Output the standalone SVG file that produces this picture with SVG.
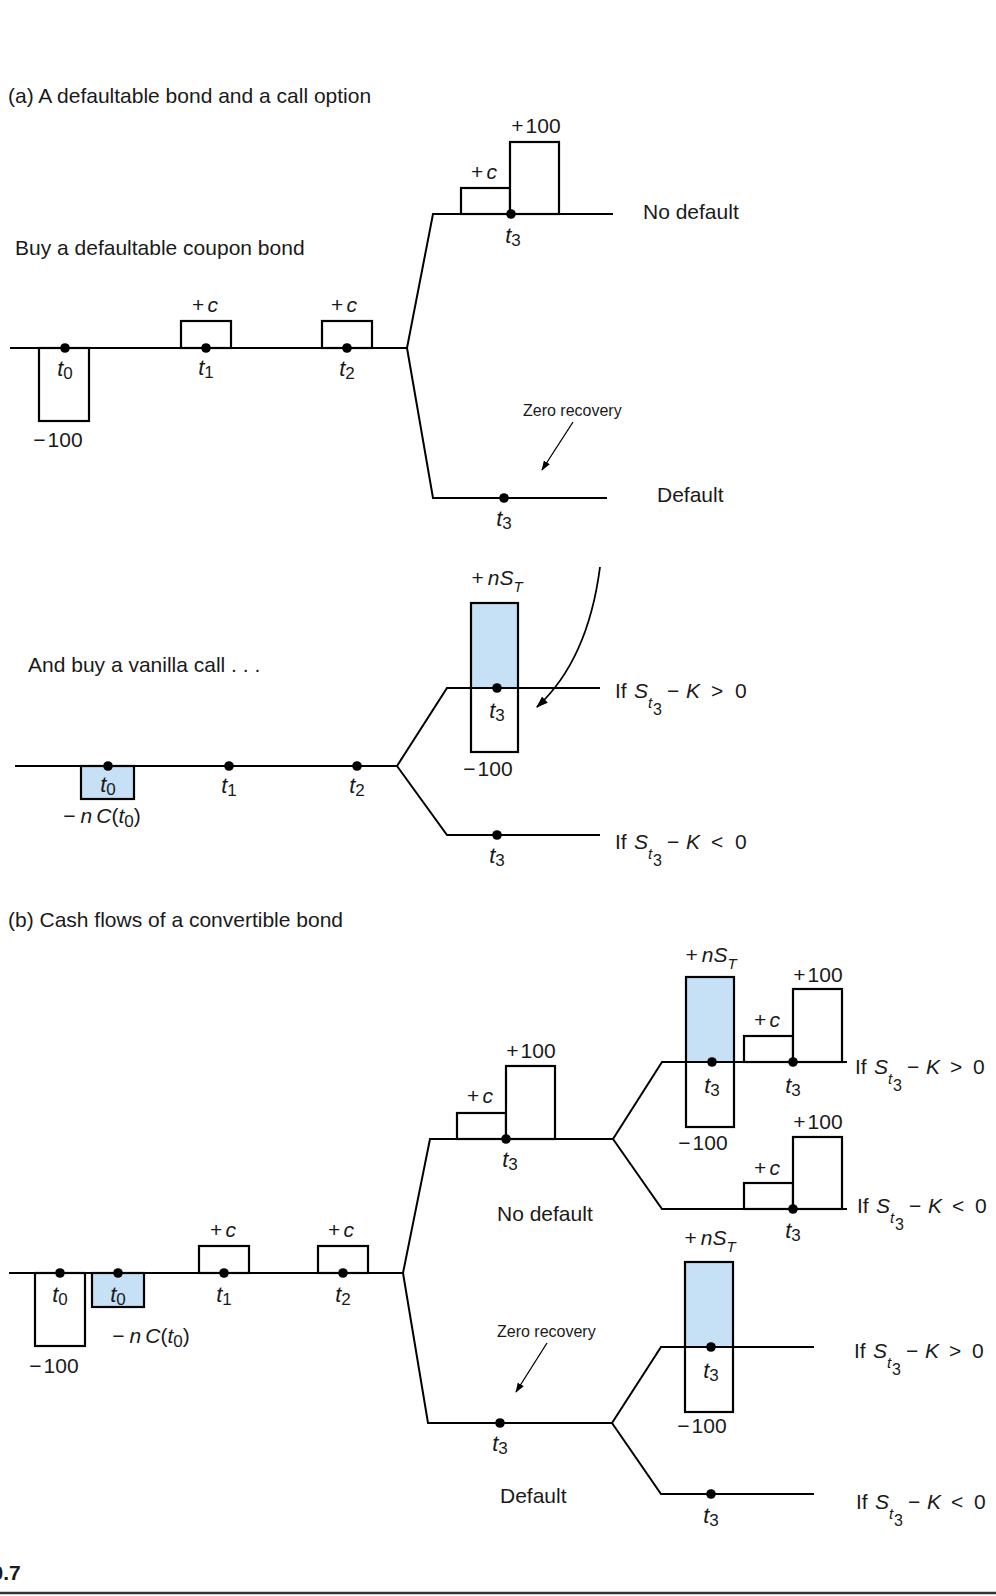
<svg xmlns="http://www.w3.org/2000/svg" width="996" height="1596" viewBox="0 0 996 1596">
<style>
text{font-family:"Liberation Sans",Arial,sans-serif;fill:#1a1a1a;font-size:21px}
.t{font-style:italic;text-anchor:middle;font-size:22px}
.s{font-size:17px;font-style:normal}
.m{text-anchor:middle}
.i{font-style:italic}
.zr{font-size:16px}
.bx{fill:#fff;stroke:#000;stroke-width:2.2}
.ol{fill:none;stroke:#000;stroke-width:2.2}
.bl{fill:#c6e0f5;stroke:none}
.wh{fill:#fff;stroke:none}
.blb{fill:#c6e0f5;stroke:#000;stroke-width:2.2}
.ln{fill:none;stroke:#000;stroke-width:2}
.ar{fill:none;stroke:#000;stroke-width:1.3}
.ar2{fill:none;stroke:#000;stroke-width:1.8}
.dot{fill:#000}
</style>
<defs>
<marker id="ah" viewBox="0 0 10 10" refX="9" refY="5" markerWidth="10" markerHeight="10" markerUnits="userSpaceOnUse" orient="auto"><path d="M0,1.5 L10,5 L0,8.5 z" fill="#000"/></marker>
<marker id="ah2" viewBox="0 0 10 10" refX="9" refY="5" markerWidth="12" markerHeight="12" markerUnits="userSpaceOnUse" orient="auto"><path d="M0,1.5 L10,5 L0,8.5 z" fill="#000"/></marker>
</defs>

<!-- ========== Part (a) top: defaultable bond ========== -->
<g id="title-a"><text x="8" y="103">(a) A defaultable bond and a call option</text></g>
<g id="label-buy-bond"><text x="15" y="255">Buy a defaultable coupon bond</text></g>

<g id="a1-t0">
<rect class="bx" x="39" y="348" width="50" height="73"/>
<circle class="dot" cx="65" cy="348" r="4.8"/>
<text class="t" x="65" y="376">t<tspan class="s" dy="3">0</tspan></text>
<text class="m" x="58" y="447">−<tspan dx="2">100</tspan></text>
</g>
<g id="a1-t1">
<rect class="bx" x="181" y="321" width="50" height="27"/>
<circle class="dot" cx="206" cy="348" r="4.8"/>
<text class="m" x="205" y="312">+<tspan class="i" dx="3">c</tspan></text>
<text class="t" x="206" y="375">t<tspan class="s" dy="3">1</tspan></text>
</g>
<g id="a1-t2">
<rect class="bx" x="322" y="321" width="50" height="27"/>
<circle class="dot" cx="347" cy="348" r="4.8"/>
<text class="m" x="344" y="312">+<tspan class="i" dx="3">c</tspan></text>
<text class="t" x="347" y="376">t<tspan class="s" dy="3">2</tspan></text>
</g>
<g id="a1-t3-nodefault">
<rect class="bx" x="461" y="188" width="49" height="26"/>
<rect class="bx" x="510" y="142" width="49" height="72"/>
<circle class="dot" cx="511" cy="214" r="4.8"/>
<text class="m" x="484" y="179">+<tspan class="i" dx="3">c</tspan></text>
<text class="m" x="536" y="133">+<tspan dx="2">100</tspan></text>
<text class="t" x="513" y="243">t<tspan class="s" dy="3">3</tspan></text>
<text x="643" y="219">No default</text>
</g>
<g id="a1-t3-default">
<circle class="dot" cx="504" cy="498" r="4.8"/>
<text class="t" x="504" y="526">t<tspan class="s" dy="3">3</tspan></text>
<text x="657" y="502">Default</text>
<text class="zr" x="523" y="416">Zero recovery</text>
</g>

<!-- ========== Part (a) bottom: vanilla call ========== -->
<g id="label-buy-call"><text x="28" y="672">And buy a vanilla call . . .</text></g>
<g id="a2-t0">
<rect class="blb" x="81" y="766" width="53" height="33"/>
<circle class="dot" cx="108" cy="766" r="4.8"/>
<text class="t" x="108" y="792">t<tspan class="s" dy="3">0</tspan></text>
<text class="m" x="102" y="823">−<tspan class="i" dx="5">n</tspan><tspan class="i" dx="4">C</tspan>(<tspan class="i">t</tspan><tspan class="s" dy="4">0</tspan><tspan dy="-4">)</tspan></text>
</g>
<g id="a2-t1">
<circle class="dot" cx="229" cy="766" r="4.8"/>
<text class="t" x="229" y="793">t<tspan class="s" dy="3">1</tspan></text>
</g>
<g id="a2-t2">
<circle class="dot" cx="357" cy="766" r="4.8"/>
<text class="t" x="357" y="793">t<tspan class="s" dy="3">2</tspan></text>
</g>
<g id="a2-t3-up">
<rect class="bl" x="471" y="603" width="47" height="85"/>
<rect class="wh" x="471" y="688" width="47" height="64"/>
<rect class="ol" x="471" y="603" width="47" height="149"/>
<circle class="dot" cx="497" cy="688" r="4.8"/>
<text class="m" x="497" y="585">+<tspan class="i" dx="4">nS</tspan><tspan class="i" font-size="15" dy="7">T</tspan></text>
<text class="t" x="497" y="718">t<tspan class="s" dy="3">3</tspan></text>
<text class="m" x="488" y="776">−<tspan dx="2">100</tspan></text>
<g transform="translate(615,698)"><text><tspan x="0" y="0">If</tspan><tspan class="i" x="19" y="0">S</tspan><tspan class="i" font-size="15" x="33" y="10">t</tspan><tspan font-size="16" x="38" y="17">3</tspan><tspan x="52" y="0">−</tspan><tspan class="i" x="71" y="0">K</tspan><tspan x="96" y="0">&gt;</tspan><tspan x="120" y="0">0</tspan></text></g>
</g>
<g id="a2-t3-down">
<circle class="dot" cx="497" cy="835" r="4.8"/>
<text class="t" x="497" y="863">t<tspan class="s" dy="3">3</tspan></text>
<g transform="translate(615,849)"><text><tspan x="0" y="0">If</tspan><tspan class="i" x="19" y="0">S</tspan><tspan class="i" font-size="15" x="33" y="10">t</tspan><tspan font-size="16" x="38" y="17">3</tspan><tspan x="52" y="0">−</tspan><tspan class="i" x="71" y="0">K</tspan><tspan x="96" y="0">&lt;</tspan><tspan x="120" y="0">0</tspan></text></g>
</g>

<!-- ========== Part (b): convertible bond ========== -->
<g id="title-b"><text x="8" y="927">(b) Cash flows of a convertible bond</text></g>
<g id="b-t0">
<rect class="bx" x="35" y="1273" width="50" height="73"/>
<circle class="dot" cx="60" cy="1273" r="4.8"/>
<text class="t" x="60" y="1302">t<tspan class="s" dy="3">0</tspan></text>
<text class="m" x="54" y="1373">−<tspan dx="2">100</tspan></text>
</g>
<g id="b-t0-call">
<rect class="blb" x="92" y="1273" width="52" height="34"/>
<circle class="dot" cx="118" cy="1273" r="4.8"/>
<text class="t" x="118" y="1302">t<tspan class="s" dy="3">0</tspan></text>
<text class="m" x="151" y="1343">−<tspan class="i" dx="5">n</tspan><tspan class="i" dx="4">C</tspan>(<tspan class="i">t</tspan><tspan class="s" dy="4">0</tspan><tspan dy="-4">)</tspan></text>
</g>
<g id="b-t1">
<rect class="bx" x="199" y="1246" width="50" height="27"/>
<circle class="dot" cx="224" cy="1273" r="4.8"/>
<text class="m" x="223" y="1237">+<tspan class="i" dx="3">c</tspan></text>
<text class="t" x="224" y="1302">t<tspan class="s" dy="3">1</tspan></text>
</g>
<g id="b-t2">
<rect class="bx" x="318" y="1246" width="50" height="27"/>
<circle class="dot" cx="343" cy="1273" r="4.8"/>
<text class="m" x="341" y="1237">+<tspan class="i" dx="3">c</tspan></text>
<text class="t" x="343" y="1302">t<tspan class="s" dy="3">2</tspan></text>
</g>
<g id="b-nodefault-t3">
<rect class="bx" x="457" y="1113" width="49" height="26"/>
<rect class="bx" x="506" y="1066" width="49" height="73"/>
<circle class="dot" cx="506" cy="1139" r="4.8"/>
<text class="m" x="480" y="1103">+<tspan class="i" dx="3">c</tspan></text>
<text class="m" x="531" y="1058">+<tspan dx="2">100</tspan></text>
<text class="t" x="510" y="1167">t<tspan class="s" dy="3">3</tspan></text>
<text x="497" y="1221">No default</text>
</g>
<g id="b-nodefault-up">
<rect class="bl" x="686" y="977" width="48" height="85"/>
<rect class="wh" x="686" y="1062" width="48" height="65"/>
<rect class="ol" x="686" y="977" width="48" height="150"/>
<circle class="dot" cx="712" cy="1062" r="4.8"/>
<text class="m" x="711" y="962">+<tspan class="i" dx="4">nS</tspan><tspan class="i" font-size="15" dy="7">T</tspan></text>
<text class="t" x="712" y="1093">t<tspan class="s" dy="3">3</tspan></text>
<text class="m" x="703" y="1150">−<tspan dx="2">100</tspan></text>
<rect class="bx" x="744" y="1036" width="49" height="26"/>
<rect class="bx" x="793" y="989" width="49" height="73"/>
<circle class="dot" cx="793" cy="1062" r="4.8"/>
<text class="m" x="767" y="1027">+<tspan class="i" dx="3">c</tspan></text>
<text class="m" x="818" y="982">+<tspan dx="2">100</tspan></text>
<text class="t" x="793" y="1093">t<tspan class="s" dy="3">3</tspan></text>
<g transform="translate(855,1074)"><text><tspan x="0" y="0">If</tspan><tspan class="i" x="19" y="0">S</tspan><tspan class="i" font-size="15" x="33" y="10">t</tspan><tspan font-size="16" x="38" y="17">3</tspan><tspan x="52" y="0">−</tspan><tspan class="i" x="71" y="0">K</tspan><tspan x="95" y="0">&gt;</tspan><tspan x="118" y="0">0</tspan></text></g>
</g>
<g id="b-nodefault-down">
<rect class="bx" x="744" y="1183" width="49" height="26"/>
<rect class="bx" x="793" y="1137" width="49" height="72"/>
<circle class="dot" cx="793" cy="1209" r="4.8"/>
<text class="m" x="767" y="1175">+<tspan class="i" dx="3">c</tspan></text>
<text class="m" x="818" y="1129">+<tspan dx="2">100</tspan></text>
<text class="t" x="793" y="1238">t<tspan class="s" dy="3">3</tspan></text>
<g transform="translate(857,1213)"><text><tspan x="0" y="0">If</tspan><tspan class="i" x="19" y="0">S</tspan><tspan class="i" font-size="15" x="33" y="10">t</tspan><tspan font-size="16" x="38" y="17">3</tspan><tspan x="52" y="0">−</tspan><tspan class="i" x="71" y="0">K</tspan><tspan x="95" y="0">&lt;</tspan><tspan x="118" y="0">0</tspan></text></g>
</g>
<g id="b-default-t3">
<circle class="dot" cx="500" cy="1423" r="4.8"/>
<text class="t" x="500" y="1451">t<tspan class="s" dy="3">3</tspan></text>
<text class="zr" x="497" y="1337">Zero recovery</text>
<text x="500" y="1503">Default</text>
</g>
<g id="b-default-up">
<rect class="bl" x="685" y="1262" width="48" height="85"/>
<rect class="wh" x="685" y="1347" width="48" height="65"/>
<rect class="ol" x="685" y="1262" width="48" height="150"/>
<circle class="dot" cx="711" cy="1347" r="4.8"/>
<text class="m" x="710" y="1245">+<tspan class="i" dx="4">nS</tspan><tspan class="i" font-size="15" dy="7">T</tspan></text>
<text class="t" x="711" y="1378">t<tspan class="s" dy="3">3</tspan></text>
<text class="m" x="702" y="1433">−<tspan dx="2">100</tspan></text>
<g transform="translate(854,1358)"><text><tspan x="0" y="0">If</tspan><tspan class="i" x="19" y="0">S</tspan><tspan class="i" font-size="15" x="33" y="10">t</tspan><tspan font-size="16" x="38" y="17">3</tspan><tspan x="52" y="0">−</tspan><tspan class="i" x="71" y="0">K</tspan><tspan x="95" y="0">&gt;</tspan><tspan x="118" y="0">0</tspan></text></g>
</g>
<g id="b-default-down">
<circle class="dot" cx="711" cy="1494" r="4.8"/>
<text class="t" x="711" y="1523">t<tspan class="s" dy="3">3</tspan></text>
<g transform="translate(856,1509)"><text><tspan x="0" y="0">If</tspan><tspan class="i" x="19" y="0">S</tspan><tspan class="i" font-size="15" x="33" y="10">t</tspan><tspan font-size="16" x="38" y="17">3</tspan><tspan x="52" y="0">−</tspan><tspan class="i" x="71" y="0">K</tspan><tspan x="95" y="0">&lt;</tspan><tspan x="118" y="0">0</tspan></text></g>
</g>

<g id="footer">
<text x="-8.5" y="1580" font-weight="bold" font-size="24">0.7</text>
<line x1="0" y1="1593" x2="996" y2="1593" stroke="#333" stroke-width="2.5"/>
</g>

<!-- ========== Connectors ========== -->
<g id="connectors">
<path class="ln" d="M10,348 H407"/>
<path class="ln" d="M407,348 L433,214 H613"/>
<path class="ln" d="M407,348 L433,498 H607"/>
<path class="ar" d="M573,422 L542,470" marker-end="url(#ah)"/>
<path class="ln" d="M15,766 H397"/>
<path class="ln" d="M397,766 L447,688 H600"/>
<path class="ln" d="M397,766 L447,835 H600"/>
<path class="ar2" d="M600,567 Q588,660 537,707" marker-end="url(#ah2)"/>
<path class="ln" d="M9,1273 H403"/>
<path class="ln" d="M403,1273 L430,1139 H613"/>
<path class="ln" d="M613,1139 L662,1062 H847"/>
<path class="ln" d="M613,1139 L662,1209 H847"/>
<path class="ln" d="M403,1273 L428,1423 H612"/>
<path class="ln" d="M612,1423 L661,1347 H814"/>
<path class="ln" d="M612,1423 L661,1494 H814"/>
<path class="ar" d="M547,1343 L516,1392" marker-end="url(#ah)"/>
</g>
</svg>
